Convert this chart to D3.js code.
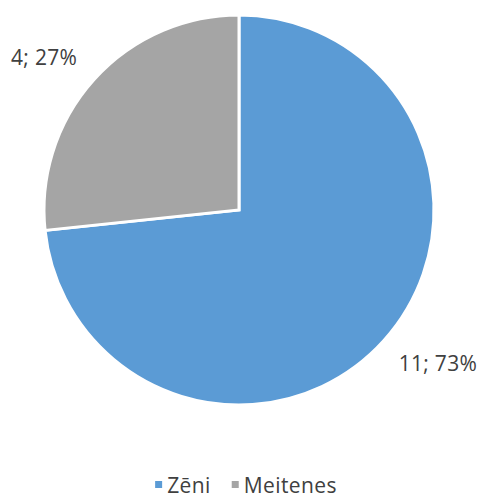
<!DOCTYPE html>
<html>
<head>
<meta charset="utf-8">
<script src="https://cdn.jsdelivr.net/npm/d3@7"></script>
<style>
  html, body { margin: 0; padding: 0; background: #fff; }
  svg { display: block; }
  text { font-family: "Open Sans", "Noto Sans", sans-serif; fill: #404040; }
</style>
</head>
<body>
<svg id="chart" width="480" height="498"></svg>
<script>
// Pupils by gender
const categories = ["Zēni", "Meitenes"];
const counts = [11, 4];
const colors = ["#5B9BD5", "#A5A5A5"];

const width = 480, height = 498;
const cx = 239, cy = 210, radius = 195;

const svg = d3.select("#chart");
const g = svg.append("g").attr("transform", `translate(${cx},${cy})`);

const data = categories.map((c, i) => ({ name: c, value: counts[i], color: colors[i] }));
const total = d3.sum(counts);

const pie = d3.pie().sort(null).value(d => d.value);
const arc = d3.arc().innerRadius(0).outerRadius(radius);
const arcs = pie(data);

g.selectAll("path.slice")
  .data(arcs)
  .join("path")
  .attr("class", "slice")
  .attr("d", arc)
  .attr("fill", d => d.data.color)
  .attr("stroke", "#fff")
  .attr("stroke-width", 3)
  .attr("stroke-linejoin", "miter");

// Data labels: "value; percent", placed outside each slice
const fmtPct = d3.format(".0%");
g.selectAll("text.label")
  .data(arcs)
  .join("text")
  .attr("class", "label")
  .attr("x", d => 2 + Math.sin((d.startAngle + d.endAngle) / 2) * 265)
  .attr("y", d => -Math.cos((d.startAngle + d.endAngle) / 2) * 229)
  .attr("text-anchor", "middle")
  .attr("dominant-baseline", "central")
  .attr("font-size", 21)
  .attr("letter-spacing", 0.3)
  .text(d => `${d.data.value}; ${fmtPct(d.data.value / total)}`);

// Legend under the pie
const legend = svg.append("g");
const items = legend.selectAll("g.item")
  .data(data)
  .join("g")
  .attr("class", "item");
items.append("rect")
  .attr("width", 7).attr("height", 7)
  .attr("y", -12)
  .attr("fill", d => d.color);
items.append("text")
  .attr("x", 12)
  .attr("y", 0)
  .attr("font-size", 21)
  .attr("letter-spacing", 0.4)
  .text(d => d.name);

const gap = 21;
let xOff = 0;
items.each(function () {
  d3.select(this).attr("transform", `translate(${xOff},0)`);
  xOff += this.getBBox().width + gap;
});
const legendWidth = xOff - gap;
legend.attr("transform", `translate(${246 - legendWidth / 2},493)`);
</script>
</body>
</html>
